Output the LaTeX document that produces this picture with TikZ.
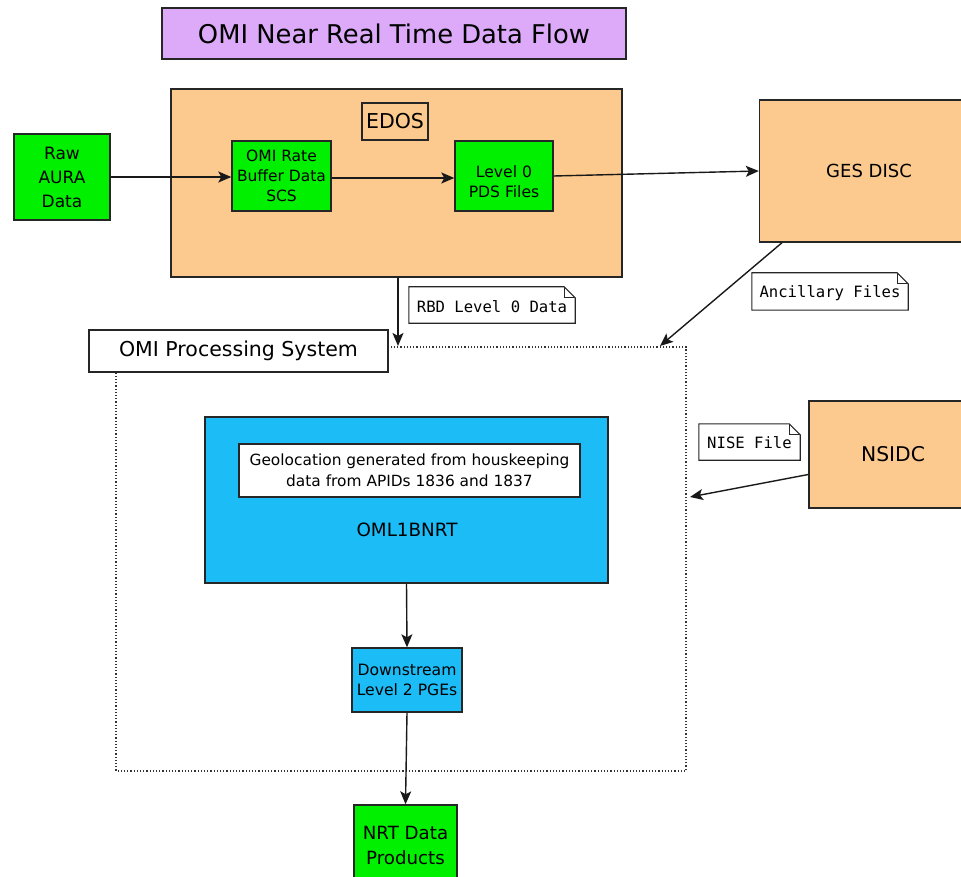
\documentclass[tikz,border=0pt]{standalone}
\usepackage{fontspec}
\setmainfont{DejaVu Sans}
\newfontfamily\notefont{DejaVu Sans Mono}
\usetikzlibrary{arrows.meta}
\definecolor{peach}{HTML}{FCC98E}
\definecolor{grn}{HTML}{00F000}
\definecolor{sky}{HTML}{1CBCF6}
\definecolor{lav}{HTML}{DCAAF8}
\tikzset{
  box/.style={draw=black!85, line width=1.4pt, align=center, inner sep=0pt, text=black},
  greenbox/.style={box, fill=grn},
  peachbox/.style={box, fill=peach},
  bluebox/.style={box, fill=sky},
  whitebox/.style={box, fill=white},
  notebox/.style={inner sep=0pt, align=center, font=\notefont\fontsize{15.6}{18}\selectfont},
  notedraw/.style={draw=black!85, line width=1.1pt, fill=white},
  arr/.style={-{Stealth[length=13pt,width=11pt,inset=3pt]}, line width=1.4pt, black!90},
  dots/.style={draw=black!80, line width=1.2pt, dotted}
}
\newcommand{\fs}[1]{\fontsize{#1}{#1}\selectfont}
\begin{document}
\begin{tikzpicture}[x=1pt,y=-1pt]
\useasboundingbox (0,0) rectangle (961,877);
\clip (0,0) rectangle (961,877);
% title
\node[box, fill=lav, minimum width=464, minimum height=51, font=\fs{25.8}] (title) at (394,33.5) {OMI Near Real Time Data Flow};
% EDOS
\node[peachbox, minimum width=451, minimum height=188] (edos) at (396.5,183) {};
\node[peachbox, minimum width=66, minimum height=37, font=\fs{20.5}] (edoslbl) at (395,121.5) {EDOS};
\node[greenbox, minimum width=96, minimum height=86, font=\fontsize{17}{24}\selectfont] (raw) at (62,177) {Raw\\AURA\\Data};
\node[greenbox, minimum width=99, minimum height=70, font=\fontsize{15.5}{20}\selectfont] (rbd) at (281.5,176) {OMI Rate\\Buffer Data\\SCS};
\node[greenbox, minimum width=98, minimum height=70, font=\fontsize{15.6}{20}\selectfont] (l0) at (504,176) {\rule{0pt}{24pt}Level 0\\PDS Files};
\node[peachbox, minimum width=203, minimum height=142, font=\fs{18}] (ges) at (861,171) {\hspace*{16pt}GES DISC};
% OMI processing system
\coordinate (dtl) at (116,347);
\coordinate (dbr) at (686,771);
\draw[dots] (dtl) rectangle (dbr);
\node[whitebox, minimum width=299, minimum height=42, font=\fs{20.5}] (ops) at (238.5,351) {OMI Processing System};
\node[peachbox, minimum width=168, minimum height=107, font=\fs{20.3}] (nsidc) at (893,454.5) {NSIDC};
\node[bluebox, minimum width=403, minimum height=166] (oml) at (406.5,500) {};
\node[whitebox, minimum width=341, minimum height=53, font=\fontsize{15.4}{21}\selectfont] (geo) at (409.5,470.5) {Geolocation generated from houskeeping\\data from APIDs 1836 and 1837};
\node[font=\fs{18.3}] (omllbl) at (407,530) {OML1BNRT};
\node[bluebox, minimum width=110, minimum height=64, font=\fontsize{15.6}{20}\selectfont] (down) at (407,680) {Downstream\\Level 2 PGEs};
\node[greenbox, minimum width=103, minimum height=80, font=\fontsize{18.2}{25}\selectfont] (nrt) at (405.5,845) {NRT Data\\Products};
% notes
\node[notebox, minimum width=166, minimum height=36] (n1) at (492,305) {};
\node[notebox, minimum width=156, minimum height=37] (n2) at (830,291.5) {};
\node[notebox, minimum width=101, minimum height=36] (n3) at (749.5,442) {};
\foreach \n in {n1,n2,n3}{
  \draw[notedraw] (\n.south west) -- (\n.north west) -- ([xshift=-11]\n.north east) -- ([yshift=-11]\n.north east) -- (\n.south east) -- cycle;
  \draw[black!85, line width=1.1pt] ([xshift=-11]\n.north east) -- ([xshift=-11,yshift=-11]\n.north east) -- ([yshift=-11]\n.north east);
}
\node[notebox] (t1) at ([yshift=-2]n1) {RBD Level 0 Data};
\node[notebox] (t2) at ([yshift=-2]n2) {Ancillary Files};
\node[notebox] (t3) at ([yshift=-1]n3) {NISE File};
% connectors
\draw[arr] (raw.east) -- (rbd.west |- raw.east);
\draw[arr] ([yshift=-2]rbd.east) -- ([yshift=-2]l0.west);
\draw[arr] (l0.east) -- (ges.west);
\coordinate (opsin) at (398,346);
\draw[arr] (edos.south -| opsin) -- (opsin);
\coordinate (ancin) at (660,346);
\draw[arr] ([xshift=-79]ges.south) -- (ancin);
\coordinate (nisein) at (690,497);
\draw[arr] ([yshift=-20]nsidc.west) -- (nisein);
\draw[arr] (oml.south) -- (down.north);
\draw[arr] (down.south) -- (nrt.north);
\end{tikzpicture}
\end{document}
